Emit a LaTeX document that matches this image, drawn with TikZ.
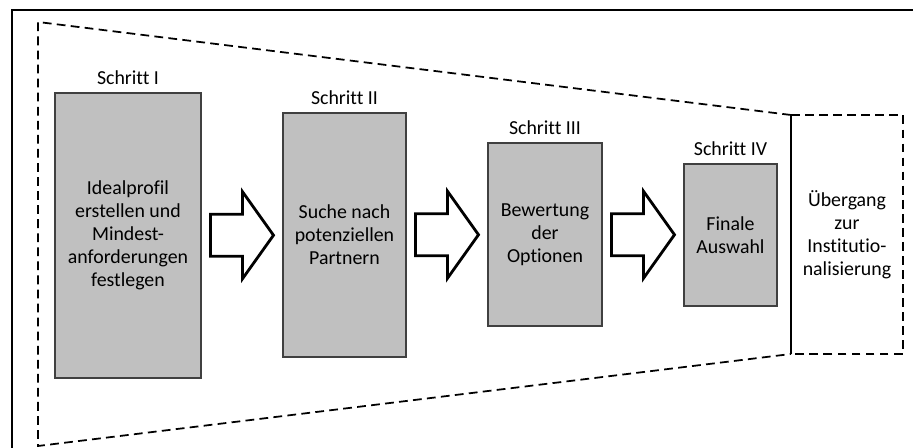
\documentclass[tikz,border=0pt]{standalone}
\usepackage{fontspec}
\setmainfont{Carlito}[Ligatures=NoCommon]
\usetikzlibrary{calc}

\definecolor{boxgrau}{RGB}{192,192,192}
\definecolor{randgrau}{RGB}{64,64,64}

\tikzset{
	schritt/.style={draw=randgrau, fill=boxgrau, line width=0.6pt, align=center, outer sep=0pt,
		font=\fontsize{11.3}{13}\selectfont},
	schrittlabel/.style={font=\fontsize{11.3}{13}\selectfont, label distance=1pt},
	strich/.style={black, line width=1pt, dash pattern=on 5pt off 3pt},
	schrittpfeil/.pic={
		\draw[black, line width=1.6pt, fill=white, line join=miter]
			(-0.63, 0.42) -- (0.01, 0.42) -- (0.01, 0.87) -- (0.63, 0)
			-- (0.01, -0.87) -- (0.01, -0.42) -- (-0.63, -0.42) -- cycle;
	}
}

\begin{document}
\begin{tikzpicture}
			\useasboundingbox (0, 0) rectangle (18.26, 8.96);

			\coordinate (rahmen) at (0.24, 8.76);
			\draw[black, line width=1.1pt]	(0.24, 0) -- (rahmen) -- (18.26, 8.76);

			\node[schritt, minimum width=2.92cm, minimum height=5.70cm,
				label={[schrittlabel]above:Schritt I}] (s1) at (2.56, 4.25)
				{Idealprofil\\erstellen und\\Mindest-\\anforderungen\\festlegen};
			\node[schritt, minimum width=2.46cm, minimum height=4.88cm,
				label={[schrittlabel]above:Schritt II}] (s2) at (6.89, 4.26)
				{Suche nach\\potenziellen\\Partnern};
			\node[schritt, minimum width=2.28cm, minimum height=3.66cm,
				label={[schrittlabel]above:Schritt III}] (s3) at (10.90, 4.27)
				{Bewertung\\der\\Optionen};
			\node[schritt, minimum width=1.86cm, minimum height=2.84cm,
				label={[schrittlabel]above:Schritt IV}] (s4) at (14.61, 4.26)
				{Finale\\Auswahl};

			\pic at ($(s1.east)!0.5!(s2.west)$) {schrittpfeil};
			\pic at ($(s2.east)!0.5!(s3.west)$) {schrittpfeil};
			\pic at ($(s3.east)!0.5!(s4.west)$) {schrittpfeil};

			\node[align=center, outer sep=0pt, minimum width=2.24cm, minimum height=4.78cm,
				font=\fontsize{11.3}{13}\selectfont] (uebergang) at (16.94, 4.27)
				{Übergang\\zur\\Institutio-\\nalisierung};

			\coordinate (tl) at (0.76, 8.52);
			\coordinate (bl) at (0.76, 0.04);
			\draw[strich]	(uebergang.north west) -- (tl) -- (bl) -- (uebergang.south west);
			\draw[strich]	(uebergang.north west) -- (uebergang.north east)
							-- (uebergang.south east) -- (uebergang.south west);
			\draw[black, line width=0.9pt]	(uebergang.north west) -- (uebergang.south west);
		\end{tikzpicture}
\end{document}
